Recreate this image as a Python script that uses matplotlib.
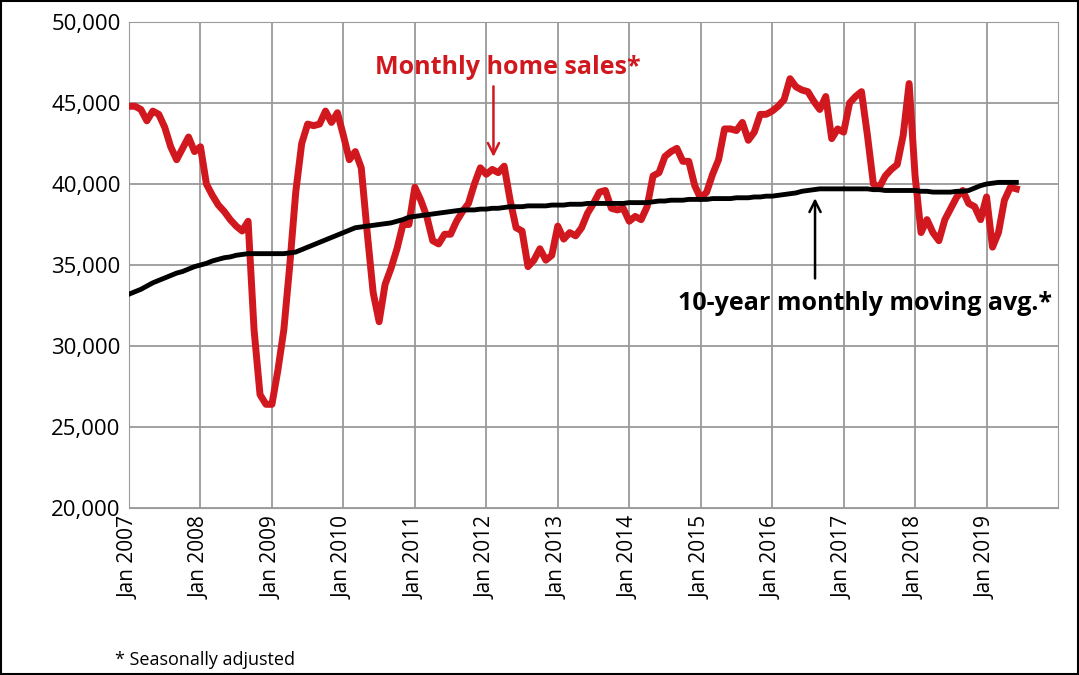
import numpy as np
import matplotlib.pyplot as plt
from matplotlib.patches import Rectangle

plt.rcParams['font.family'] = 'Open Sans'

# monthly home sales, seasonally adjusted, Jan 2007 .. Jul 2019
sales = [44800, 44800, 44600, 43900, 44500, 44300, 43500, 42300, 41500, 42200, 42900, 42000,
         42300, 40000, 39300, 38700, 38300, 37800, 37400, 37100, 37700, 31000, 27000, 26400,
         26400, 28500, 31000, 35000, 39500, 42500, 43700, 43600, 43700, 44500, 43800, 44400,
         43000, 41500, 42000, 41000, 37000, 33300, 31500, 33800, 34800, 36000, 37500, 37500,
         39800, 39000, 38000, 36500, 36300, 36900, 36900, 37700, 38300, 38800, 40000, 41000,
         40600, 40900, 40700, 41100, 39000, 37300, 37100, 34900, 35300, 36000, 35300, 35600,
         37400, 36600, 37000, 36800, 37300, 38200, 38800, 39500, 39600, 38500, 38400, 38500,
         37700, 38000, 37800, 38600, 40500, 40700, 41700, 42000, 42200, 41400, 41400, 39900,
         39100, 39500, 40600, 41500, 43400, 43400, 43300, 43800, 42700, 43200, 44300, 44300,
         44500, 44800, 45200, 46500, 46000, 45800, 45700, 45100, 44600, 45400, 42800, 43400,
         43200, 45000, 45400, 45700, 43000, 40000, 39800, 40500, 40900, 41200, 43000, 46200,
         40500, 37000, 37800, 37000, 36500, 37800, 38500, 39200, 39600, 38800, 38600, 37800,
         39200, 36100, 37000, 39000, 39800, 39700]

# 10-year monthly moving average
mavg = [33200, 33350, 33500, 33700, 33900, 34050, 34200, 34350, 34500, 34600, 34750, 34900,
        35000, 35100, 35250, 35350, 35450, 35500, 35600, 35650, 35700, 35700, 35700, 35700,
        35700, 35700, 35700, 35750, 35800, 35950, 36100, 36250, 36400, 36550, 36700, 36850,
        37000, 37150, 37300, 37350, 37400, 37450, 37500, 37550, 37600, 37700, 37800, 37950,
        38000, 38050, 38100, 38150, 38200, 38250, 38300, 38350, 38400, 38400, 38400, 38450,
        38450, 38500, 38500, 38550, 38600, 38600, 38600, 38650, 38650, 38650, 38650, 38700,
        38700, 38700, 38750, 38750, 38750, 38800, 38800, 38800, 38800, 38800, 38800, 38800,
        38850, 38850, 38850, 38850, 38900, 38950, 38950, 39000, 39000, 39000, 39050, 39050,
        39050, 39050, 39100, 39100, 39100, 39100, 39150, 39150, 39150, 39200, 39200, 39250,
        39250, 39300, 39350, 39400, 39450, 39550, 39600, 39650, 39700, 39700, 39700, 39700,
        39700, 39700, 39700, 39700, 39700, 39650, 39650, 39600, 39600, 39600, 39600, 39600,
        39600, 39550, 39550, 39500, 39500, 39500, 39500, 39550, 39550, 39600, 39750, 39900,
        40000, 40050, 40100, 40100, 40100, 40100, 40050]

years = list(range(2007, 2020))
tick_labels = ['Jan %d' % y for y in years]

n = min(len(sales), len(mavg))
t = 2007 + np.arange(n) / 12.0

fig = plt.figure(figsize=(10.79, 6.75), dpi=100)
fig.patches.append(Rectangle((0.001, 0.001), 0.998, 0.998, transform=fig.transFigure,
                             fill=False, edgecolor='black', linewidth=1.5))
ax = fig.add_axes([129/1079, 1 - 508/675, (1058 - 129)/1079, (508 - 22)/675])

ax.plot(t, sales[:n], color='#d0181e', linewidth=5, solid_joinstyle='round', zorder=3)
ax.plot(t, mavg[:n], color='black', linewidth=3.5, zorder=4)

ax.set_xlim(2007, 2020)
ax.set_ylim(20000, 50000)
ax.set_xticks(years)
ax.set_xticklabels(tick_labels, rotation=90, fontsize=15)
ax.set_yticks(range(20000, 50001, 5000))
ax.set_yticklabels(['{:,}'.format(v) for v in range(20000, 50001, 5000)], fontsize=16)
ax.grid(True, color='#9a9a9a', linewidth=1.3)
ax.set_axisbelow(True)
for s in ax.spines.values():
    s.set_color('#9a9a9a')
ax.tick_params(length=0, pad=6)

ax.text(2012.3, 47200, 'Monthly home sales*', color='#d0181e', fontsize=18,
        fontweight='bold', ha='center', va='center')
ax.annotate('', xy=(2012.1, 41500), xytext=(2012.1, 46200),
            arrowprops=dict(arrowstyle='->', color='#d0181e', lw=1.8, mutation_scale=20))
ax.text(2017.3, 32600, '10-year monthly moving avg.*', color='black', fontsize=18,
        fontweight='bold', ha='center', va='center')
ax.annotate('', xy=(2016.6, 39300), xytext=(2016.6, 34000),
            arrowprops=dict(arrowstyle='->', color='black', lw=1.8, mutation_scale=20))

fig.text(115/1079, 1 - 660/675, '* Seasonally adjusted', fontsize=13, va='center')

fig.savefig('out.png', dpi=100)
